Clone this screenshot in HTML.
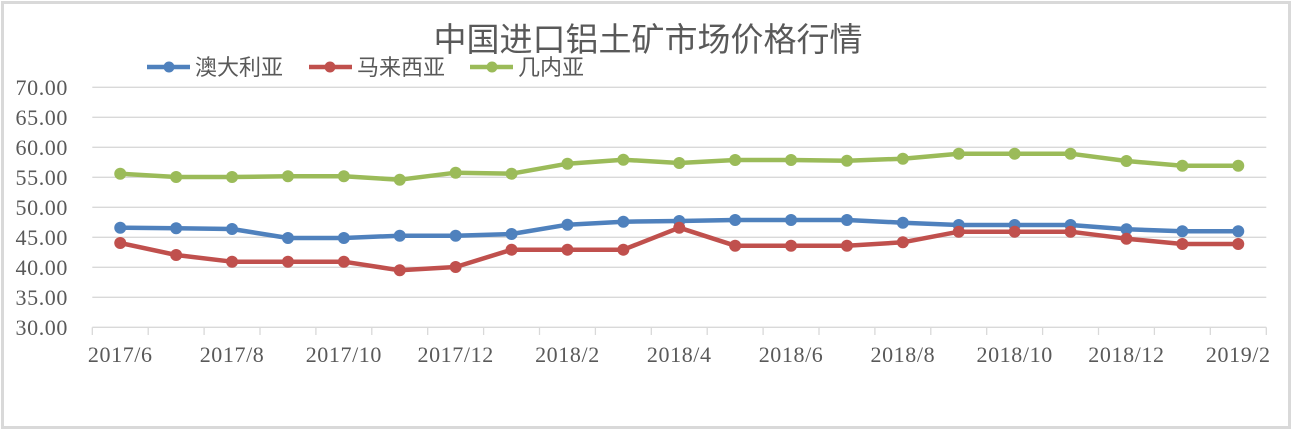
<!DOCTYPE html>
<html>
<head>
<meta charset="utf-8">
<style>
  html, body { margin: 0; padding: 0; background: #ffffff; }
  svg { display: block; }
  .ylab { font-family: "Liberation Serif", "Noto Serif CJK SC", serif; font-size: 22px; fill: #595959; letter-spacing: 0.6px; }
  .xlab { font-family: "Liberation Serif", "Noto Serif CJK SC", serif; font-size: 22px; fill: #595959; letter-spacing: 0.6px; }
  .title { font-family: "Liberation Sans", "Noto Sans CJK SC", sans-serif; font-size: 33px; fill: #595959; }
  .leg { font-family: "Liberation Sans", "Noto Sans CJK SC", sans-serif; font-size: 22px; fill: #595959; }
</style>
</head>
<body>
<svg width="1293" height="431" viewBox="0 0 1293 431" xmlns="http://www.w3.org/2000/svg">
  <rect x="0" y="0" width="1293" height="431" fill="#ffffff"/>
  <rect x="2.5" y="2.5" width="1287" height="425" fill="none" stroke="#d9d9d9" stroke-width="3"/>

  <!-- title -->
  <text class="title" x="648" y="51" text-anchor="middle">中国进口铝土矿市场价格行情</text>

  <!-- legend -->
  <g>
    <line x1="147" y1="67" x2="190" y2="67" stroke="#4f81bd" stroke-width="4.5"/>
    <circle cx="169" cy="67" r="5.5" fill="#4f81bd"/>
    <text class="leg" x="195" y="75">澳大利亚</text>
    <line x1="309" y1="67" x2="352" y2="67" stroke="#c0504d" stroke-width="4.5"/>
    <circle cx="330" cy="67" r="5.5" fill="#c0504d"/>
    <text class="leg" x="357" y="75">马来西亚</text>
    <line x1="470" y1="67" x2="513" y2="67" stroke="#9bbb59" stroke-width="4.5"/>
    <circle cx="492" cy="67" r="5.5" fill="#9bbb59"/>
    <text class="leg" x="518" y="75">几内亚</text>
  </g>

  <!-- gridlines -->
  <g stroke="#d9d9d9" stroke-width="1.3">
    <line x1="92.3" y1="87.3" x2="1266.3" y2="87.3"/>
    <line x1="92.3" y1="117.3" x2="1266.3" y2="117.3"/>
    <line x1="92.3" y1="147.3" x2="1266.3" y2="147.3"/>
    <line x1="92.3" y1="177.3" x2="1266.3" y2="177.3"/>
    <line x1="92.3" y1="207.3" x2="1266.3" y2="207.3"/>
    <line x1="92.3" y1="237.3" x2="1266.3" y2="237.3"/>
    <line x1="92.3" y1="267.3" x2="1266.3" y2="267.3"/>
    <line x1="92.3" y1="297.3" x2="1266.3" y2="297.3"/>
    <line x1="92.3" y1="327.3" x2="1266.3" y2="327.3"/>
  </g>

  <!-- ticks -->
  <g stroke="#d9d9d9" stroke-width="1.3">
    <line x1="92.3" y1="327.3" x2="92.3" y2="335"/>
    <line x1="148.2" y1="327.3" x2="148.2" y2="335"/>
    <line x1="204.1" y1="327.3" x2="204.1" y2="335"/>
    <line x1="260.0" y1="327.3" x2="260.0" y2="335"/>
    <line x1="315.9" y1="327.3" x2="315.9" y2="335"/>
    <line x1="371.8" y1="327.3" x2="371.8" y2="335"/>
    <line x1="427.7" y1="327.3" x2="427.7" y2="335"/>
    <line x1="483.6" y1="327.3" x2="483.6" y2="335"/>
    <line x1="539.5" y1="327.3" x2="539.5" y2="335"/>
    <line x1="595.4" y1="327.3" x2="595.4" y2="335"/>
    <line x1="651.3" y1="327.3" x2="651.3" y2="335"/>
    <line x1="707.2" y1="327.3" x2="707.2" y2="335"/>
    <line x1="763.1" y1="327.3" x2="763.1" y2="335"/>
    <line x1="819.0" y1="327.3" x2="819.0" y2="335"/>
    <line x1="874.9" y1="327.3" x2="874.9" y2="335"/>
    <line x1="930.8" y1="327.3" x2="930.8" y2="335"/>
    <line x1="986.7" y1="327.3" x2="986.7" y2="335"/>
    <line x1="1042.6" y1="327.3" x2="1042.6" y2="335"/>
    <line x1="1098.5" y1="327.3" x2="1098.5" y2="335"/>
    <line x1="1154.4" y1="327.3" x2="1154.4" y2="335"/>
    <line x1="1210.3" y1="327.3" x2="1210.3" y2="335"/>
    <line x1="1266.3" y1="327.3" x2="1266.3" y2="335"/>
  </g>

  <!-- y labels -->
  <g class="ylab" text-anchor="end">
    <text x="68" y="95">70.00</text>
    <text x="68" y="125">65.00</text>
    <text x="68" y="155">60.00</text>
    <text x="68" y="185">55.00</text>
    <text x="68" y="215">50.00</text>
    <text x="68" y="245">45.00</text>
    <text x="68" y="275">40.00</text>
    <text x="68" y="305">35.00</text>
    <text x="68" y="335">30.00</text>
  </g>

  <!-- x labels -->
  <g class="xlab" text-anchor="middle">
    <text x="120.25" y="362">2017/6</text>
    <text x="232.05" y="362">2017/8</text>
    <text x="343.85" y="362">2017/10</text>
    <text x="455.65" y="362">2017/12</text>
    <text x="567.45" y="362">2018/2</text>
    <text x="679.25" y="362">2018/4</text>
    <text x="791.05" y="362">2018/6</text>
    <text x="902.85" y="362">2018/8</text>
    <text x="1014.65" y="362">2018/10</text>
    <text x="1126.45" y="362">2018/12</text>
    <text x="1238.25" y="362">2019/2</text>
  </g>

  <!-- series: 澳大利亚 (blue) -->
  <g fill="#4f81bd">
    <polyline fill="none" stroke="#4f81bd" stroke-width="4.5" stroke-linejoin="round"
      points="120.25,227.7 176.15,228.3 232.05,229 287.95,238 343.85,238 399.75,235.7 455.65,235.7 511.55,234 567.45,224.7 623.35,221.7 679.25,221 735.15,220 791.05,220 846.95,220 902.85,222.7 958.75,225 1014.65,225 1070.55,225 1126.45,229.3 1182.35,231.3 1238.25,231.3"/>
    <circle cx="120.25" cy="227.7" r="6"/><circle cx="176.15" cy="228.3" r="6"/><circle cx="232.05" cy="229" r="6"/>
    <circle cx="287.95" cy="238" r="6"/><circle cx="343.85" cy="238" r="6"/><circle cx="399.75" cy="235.7" r="6"/>
    <circle cx="455.65" cy="235.7" r="6"/><circle cx="511.55" cy="234" r="6"/><circle cx="567.45" cy="224.7" r="6"/>
    <circle cx="623.35" cy="221.7" r="6"/><circle cx="679.25" cy="221" r="6"/><circle cx="735.15" cy="220" r="6"/>
    <circle cx="791.05" cy="220" r="6"/><circle cx="846.95" cy="220" r="6"/><circle cx="902.85" cy="222.7" r="6"/>
    <circle cx="958.75" cy="225" r="6"/><circle cx="1014.65" cy="225" r="6"/><circle cx="1070.55" cy="225" r="6"/>
    <circle cx="1126.45" cy="229.3" r="6"/><circle cx="1182.35" cy="231.3" r="6"/><circle cx="1238.25" cy="231.3" r="6"/>
  </g>

  <!-- series: 马来西亚 (red) -->
  <g fill="#c0504d">
    <polyline fill="none" stroke="#c0504d" stroke-width="4.5" stroke-linejoin="round"
      points="120.25,243 176.15,255 232.05,261.7 287.95,261.7 343.85,261.7 399.75,270.3 455.65,267 511.55,249.7 567.45,249.7 623.35,249.7 679.25,227.7 735.15,245.7 791.05,245.7 846.95,245.7 902.85,242.3 958.75,231.7 1014.65,231.7 1070.55,231.7 1126.45,238.7 1182.35,244 1238.25,244"/>
    <circle cx="120.25" cy="243" r="6"/><circle cx="176.15" cy="255" r="6"/><circle cx="232.05" cy="261.7" r="6"/>
    <circle cx="287.95" cy="261.7" r="6"/><circle cx="343.85" cy="261.7" r="6"/><circle cx="399.75" cy="270.3" r="6"/>
    <circle cx="455.65" cy="267" r="6"/><circle cx="511.55" cy="249.7" r="6"/><circle cx="567.45" cy="249.7" r="6"/>
    <circle cx="623.35" cy="249.7" r="6"/><circle cx="679.25" cy="227.7" r="6"/><circle cx="735.15" cy="245.7" r="6"/>
    <circle cx="791.05" cy="245.7" r="6"/><circle cx="846.95" cy="245.7" r="6"/><circle cx="902.85" cy="242.3" r="6"/>
    <circle cx="958.75" cy="231.7" r="6"/><circle cx="1014.65" cy="231.7" r="6"/><circle cx="1070.55" cy="231.7" r="6"/>
    <circle cx="1126.45" cy="238.7" r="6"/><circle cx="1182.35" cy="244" r="6"/><circle cx="1238.25" cy="244" r="6"/>
  </g>

  <!-- series: 几内亚 (green) -->
  <g fill="#9bbb59">
    <polyline fill="none" stroke="#9bbb59" stroke-width="4.5" stroke-linejoin="round"
      points="120.25,173.7 176.15,177 232.05,177 287.95,176.3 343.85,176.3 399.75,179.7 455.65,172.7 511.55,173.7 567.45,163.7 623.35,159.7 679.25,163 735.15,160 791.05,160 846.95,160.7 902.85,158.7 958.75,153.7 1014.65,153.7 1070.55,153.7 1126.45,161 1182.35,165.7 1238.25,165.7"/>
    <circle cx="120.25" cy="173.7" r="6"/><circle cx="176.15" cy="177" r="6"/><circle cx="232.05" cy="177" r="6"/>
    <circle cx="287.95" cy="176.3" r="6"/><circle cx="343.85" cy="176.3" r="6"/><circle cx="399.75" cy="179.7" r="6"/>
    <circle cx="455.65" cy="172.7" r="6"/><circle cx="511.55" cy="173.7" r="6"/><circle cx="567.45" cy="163.7" r="6"/>
    <circle cx="623.35" cy="159.7" r="6"/><circle cx="679.25" cy="163" r="6"/><circle cx="735.15" cy="160" r="6"/>
    <circle cx="791.05" cy="160" r="6"/><circle cx="846.95" cy="160.7" r="6"/><circle cx="902.85" cy="158.7" r="6"/>
    <circle cx="958.75" cy="153.7" r="6"/><circle cx="1014.65" cy="153.7" r="6"/><circle cx="1070.55" cy="153.7" r="6"/>
    <circle cx="1126.45" cy="161" r="6"/><circle cx="1182.35" cy="165.7" r="6"/><circle cx="1238.25" cy="165.7" r="6"/>
  </g>
</svg>
</body>
</html>
